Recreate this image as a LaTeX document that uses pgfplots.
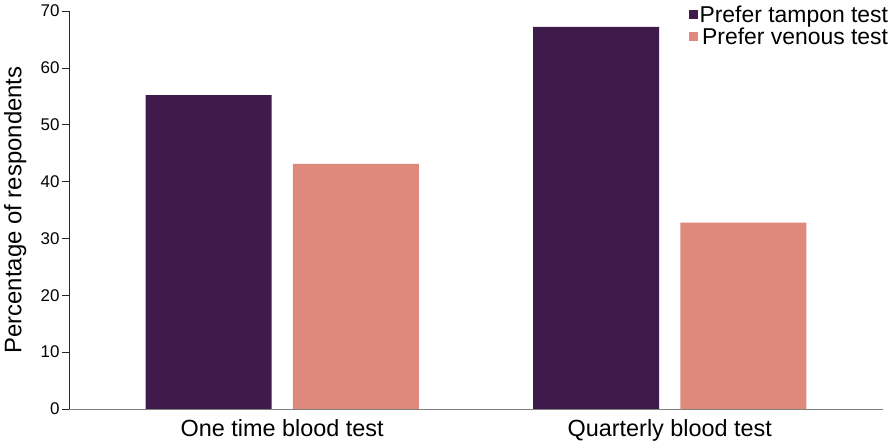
\documentclass[border=0pt]{standalone}
\usepackage{pgfplots}
\pgfplotsset{compat=1.18}
\usepackage{fontspec}
\setmainfont{Liberation Sans}
\definecolor{tampon}{HTML}{3F1B4C}
\definecolor{venous}{HTML}{DE897B}

\begin{document}
\begin{tikzpicture}
\useasboundingbox (-69bp,-33bp) rectangle (827bp,409bp);
\begin{axis}[
    at={(0,0)}, anchor=south west,
    scale only axis, width=814bp, height=398bp,
    ymin=0, ymax=70, ytick={0,10,...,70},
    xmin=-0.55, xmax=1.55,
    xtick={0,1}, xticklabels={One time blood test, Quarterly blood test},
    axis x line=bottom, axis y line=left,
    axis line style={-}, 
    x axis line style={draw=black!50},
    y axis line style={draw=black!85},
    xtick style={draw=none},
    ytick style={draw=black!85, line width=0.6pt},
    tick align=outside, major tick length=7bp,
    yticklabel style={font=\fontsize{17}{17}\selectfont, xshift=1bp},
    xticklabel style={font=\fontsize{23.5}{23.5}\selectfont, yshift=0bp},
    /pgf/number format/assume math mode=true,
    ylabel={Percentage of respondents},
    ylabel style={font=\fontsize{24}{24}\selectfont, at={(axis description cs:-0.066,0.5)}, anchor=center},
    ybar, bar width=0.325,
    legend style={at={(rel axis cs:1.012,1.022)}, anchor=north east, draw=none, fill=none,
        font=\fontsize{23}{23}\selectfont, row sep=0.5bp, nodes={inner sep=1.5bp}},
    legend cell align=right,
    legend image code/.code={\fill[#1] (0bp,-4.5bp) rectangle (9bp,4.5bp);},
]
\addplot[draw=none, fill=tampon, bar shift=-0.19] coordinates {(0,55.2) (1,67.2)};
\addplot[draw=none, fill=venous, bar shift=0.19] coordinates {(0,43.1) (1,32.8)};
\legend{Prefer tampon test, Prefer venous test}
\end{axis}
\end{tikzpicture}
\end{document}
